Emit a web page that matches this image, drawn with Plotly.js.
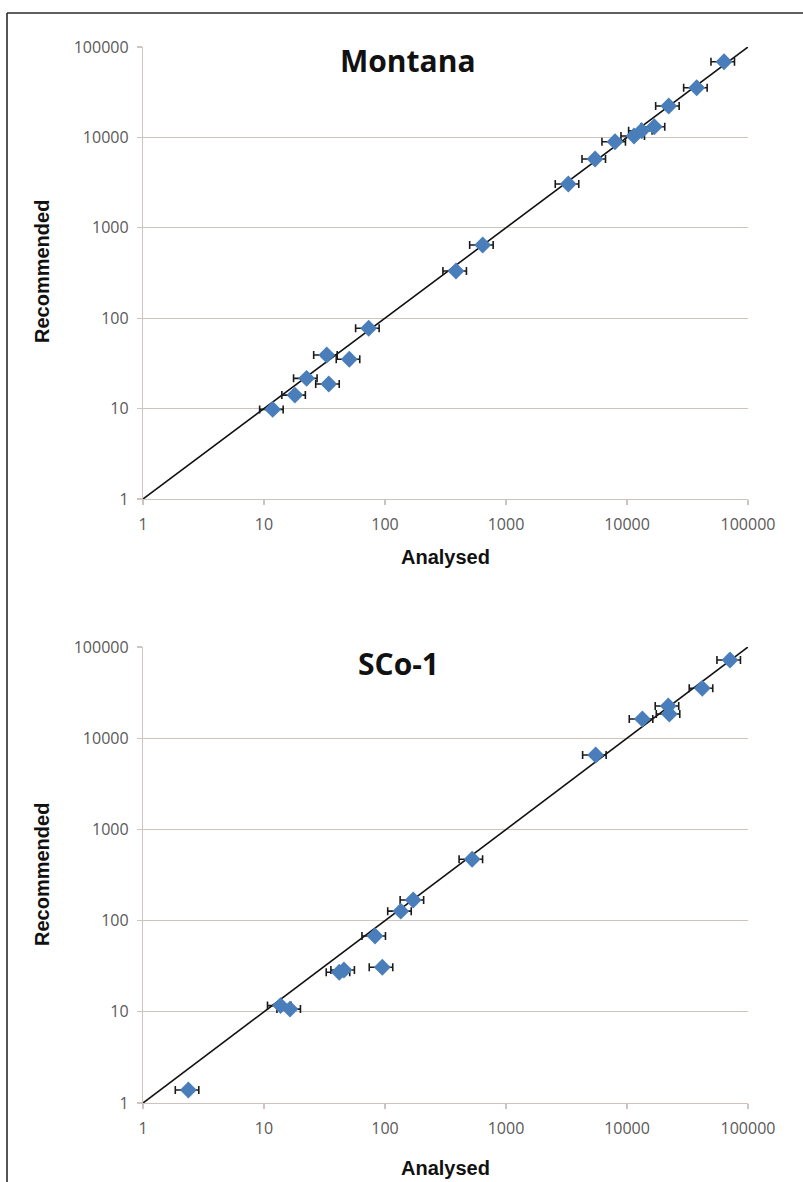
<!DOCTYPE html>
<html>
<head>
<meta charset="utf-8">
<script src="https://cdn.plot.ly/plotly-3.0.1.min.js"></script>
<style>
  html, body { margin: 0; padding: 0; background: #fff; }
  #chart { width: 803px; height: 1182px; }
</style>
</head>
<body>
<div id="chart"></div>
<script>
// ---- Data ----
const montanaAnalysed    = [11.8, 18.0, 22.5, 34.3, 33.0, 50.7, 73.3, 386, 642, 3273, 5445, 7960, 11430, 13220, 16810, 22120, 37670, 63380];
const montanaRecommended = [9.8, 14.1, 21.6, 18.7, 39.2, 35.1, 77.3, 333, 645, 3050, 5770, 8960, 10360, 11860, 13130, 22250, 35460, 68780];

const sco1Analysed    = [2.37, 13.7, 16.4, 41.9, 45.8, 95, 82.7, 135, 171, 525, 5510, 13390, 21930, 22380, 41900, 71000];
const sco1Recommended = [1.39, 11.7, 10.7, 27.1, 28.7, 30.8, 67.8, 127, 168, 470, 6540, 16250, 22540, 18420, 35250, 72100];

const errorPercent = 22;              // horizontal error bars, % of analysed value
const identityLine = [1, 100000];     // 1:1 line end points
const tickValues = [1, 10, 100, 1000, 10000, 100000];
const tickLabels = ["1", "10", "100", "1000", "10000", "100000"];
const chartTitles = ["Montana", "SCo-1"];
const xTitle = "Analysed";
const yTitle = "Recommended";

// ---- Styles ----
const W = 803, H = 1182;
const px = v => v / W;
const py = v => 1 - v / H;
const markerBlue = "#4a7ebb";
const gridColor = "#cdc3bf";
const tickFont = { family: "Open Sans, Lato, sans-serif", size: 16, color: "#595959" };

function scatter(x, y, xa, ya) {
  return {
    type: "scatter", mode: "markers", x: x, y: y, xaxis: xa, yaxis: ya,
    marker: { symbol: "diamond", size: 13, color: markerBlue, line: { width: 0 } },
    error_x: { type: "percent", value: errorPercent, symmetric: true, color: "#1a1a1a", thickness: 1.6, width: 4 },
    showlegend: false, hoverinfo: "x+y"
  };
}
function line(xa, ya) {
  return {
    type: "scatter", mode: "lines", x: identityLine, y: identityLine, xaxis: xa, yaxis: ya,
    line: { color: "#111", width: 1.6 }, showlegend: false, hoverinfo: "skip"
  };
}

const data = [
  line("x", "y"),
  scatter(montanaAnalysed, montanaRecommended, "x", "y"),
  line("x2", "y2"),
  scatter(sco1Analysed, sco1Recommended, "x2", "y2")
];

function xaxisDef(anchor) {
  return {
    type: "log", range: [0, 5], domain: [px(143), px(748)], anchor: anchor,
    tickvals: tickValues, ticktext: tickLabels, tickfont: tickFont,
    ticks: "outside", ticklen: 5, tickcolor: gridColor, tickwidth: 1.2,
    ticklabelstandoff: 6,
    showline: true, linecolor: gridColor, linewidth: 1.2,
    showgrid: false, zeroline: false, fixedrange: true
  };
}
function yaxisDef(anchor, top, bottom) {
  return {
    type: "log", range: [0, 5], domain: [py(bottom), py(top)], anchor: anchor,
    tickvals: tickValues, ticktext: tickLabels, tickfont: tickFont,
    ticks: "outside", ticklen: 5, tickcolor: gridColor, tickwidth: 1.2,
    ticklabelstandoff: 5,
    showline: true, linecolor: gridColor, linewidth: 1.2,
    showgrid: true, gridcolor: gridColor, gridwidth: 1.2, zeroline: false, fixedrange: true
  };
}

const titleFont = { family: "Open Sans, sans-serif", size: 30, color: "#111", weight: "bold" };
const axTitleFont = { family: "Liberation Sans, Arial, sans-serif", size: 20, color: "#111", weight: "bold" };

const annotations = [
  { text: "<b>" + chartTitles[0] + "</b>", x: px(408), y: py(60), xref: "paper", yref: "paper", showarrow: false, font: titleFont, xanchor: "center", yanchor: "middle" },
  { text: "<b>" + chartTitles[1] + "</b>", x: px(398), y: py(663), xref: "paper", yref: "paper", showarrow: false, font: titleFont, xanchor: "center", yanchor: "middle" },
  { text: "<b>" + xTitle + "</b>", x: px(445), y: py(557), xref: "paper", yref: "paper", showarrow: false, font: axTitleFont, xanchor: "center", yanchor: "middle" },
  { text: "<b>" + xTitle + "</b>", x: px(445), y: py(1168), xref: "paper", yref: "paper", showarrow: false, font: axTitleFont, xanchor: "center", yanchor: "middle" },
  { text: "<b>" + yTitle + "</b>", x: px(42), y: py(272), xref: "paper", yref: "paper", showarrow: false, font: axTitleFont, textangle: -90, xanchor: "center", yanchor: "middle" },
  { text: "<b>" + yTitle + "</b>", x: px(42), y: py(875), xref: "paper", yref: "paper", showarrow: false, font: axTitleFont, textangle: -90, xanchor: "center", yanchor: "middle" }
];

const shapes = [
  { type: "line", xref: "paper", yref: "paper", x0: px(7), x1: 1.01, y0: py(13), y1: py(13), line: { color: "#2a2a2a", width: 1.6 } },
  { type: "line", xref: "paper", yref: "paper", x0: px(7), x1: px(7), y0: py(13), y1: -0.01, line: { color: "#2a2a2a", width: 1.6 } }
];

const layout = {
  width: W, height: H,
  margin: { l: 0, r: 0, t: 0, b: 0 },
  paper_bgcolor: "#fff", plot_bgcolor: "#fff",
  xaxis: xaxisDef("y"),
  yaxis: yaxisDef("x", 47, 499),
  xaxis2: xaxisDef("y2"),
  yaxis2: yaxisDef("x2", 647, 1103),
  annotations: annotations,
  shapes: shapes,
  showlegend: false
};

Plotly.newPlot("chart", data, layout, { staticPlot: true, displayModeBar: false });
</script>
</body>
</html>
